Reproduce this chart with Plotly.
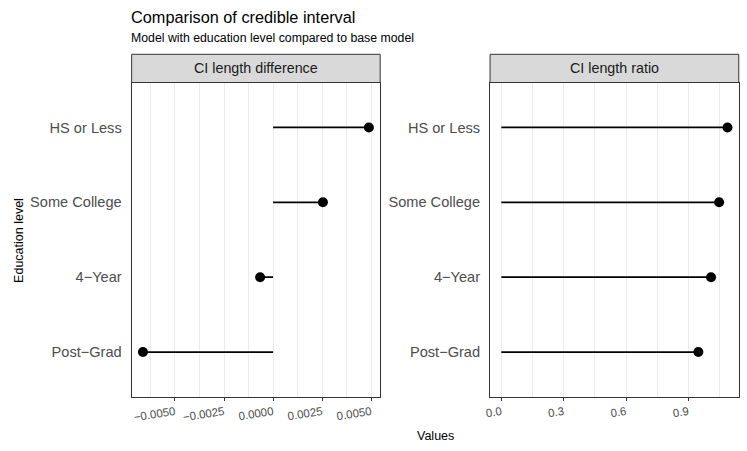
import plotly.graph_objects as go

# values
education = ["HS or Less", "Some College", "4\u2212Year", "Post\u2212Grad"]
ci_diff = [0.00488, 0.00254, -0.00066, -0.00663]
ci_ratio = [1.088, 1.048, 1.009, 0.948]

diff_ticks = [-0.005, -0.0025, 0.0, 0.0025, 0.005]
diff_labels = ["\u22120.0050", "\u22120.0025", "0.0000", "0.0025", "0.0050"]
diff_minor = [-0.00625, -0.00375, -0.00125, 0.00125, 0.00375]
ratio_ticks = [0.0, 0.3, 0.6, 0.9]
ratio_labels = ["0.0", "0.3", "0.6", "0.9"]
ratio_minor = [0.15, 0.45, 0.75, 1.05]

FONT = "Liberation Sans, Arial, sans-serif"
W, H = 747, 451


def px_x(p):
    return p / W


def px_y(p):
    return 1 - p / H


def padded(vals):
    lo, hi = min(0, min(vals)), max(0, max(vals))
    pad = 0.05 * (hi - lo)
    return [lo - pad, hi + pad]


def lollipop(vals, xa, ya):
    xs, ys = [], []
    for cat, v in zip(education, vals):
        xs += [0, v, None]
        ys += [cat, cat, None]
    seg = go.Scatter(x=xs, y=ys, mode="lines", line=dict(color="black", width=1.8),
                     xaxis=xa, yaxis=ya, showlegend=False, hoverinfo="skip")
    dots = go.Scatter(x=vals, y=education, mode="markers",
                      marker=dict(color="black", size=10),
                      xaxis=xa, yaxis=ya, showlegend=False)
    return [seg, dots]


fig = go.Figure(lollipop(ci_diff, "x", "y") + lollipop(ci_ratio, "x2", "y2"))

panel_top, panel_bot = 82.5, 397
strip_top = 54.3
panels = [(127.5, 377.7), (488.3, 738.7)]


def xaxis(dom, rng, tv, tt, minor):
    return dict(domain=[px_x(dom[0]), px_x(dom[1])], range=rng,
                tickvals=tv, ticktext=tt, tickangle=-9,
                ticks="outside", ticklen=3, tickcolor="#333333",
                tickfont=dict(family=FONT, size=11.5, color="#4D4D4D"),
                showgrid=True, gridcolor="#EBEBEB", gridwidth=1.1,
                minor=dict(tickvals=minor, showgrid=True, gridcolor="#EBEBEB", gridwidth=0.6),
                showline=True, linecolor="#333333", linewidth=1, mirror=True,
                zeroline=False)


def yaxis(anchor):
    return dict(domain=[px_y(panel_bot), px_y(panel_top)], anchor=anchor,
                type="category", categoryarray=education[::-1], range=[-0.6, 3.6],
                showgrid=False, ticks="", ticklabelstandoff=6,
                tickfont=dict(family=FONT, size=14.6, color="#4D4D4D"),
                showline=True, linecolor="#333333", linewidth=1, mirror=True,
                zeroline=False)


shapes = []
annotations = []
strip_names = ["CI length difference", "CI length ratio"]
for (x0, x1), name in zip(panels, strip_names):
    shapes.append(dict(type="rect", xref="paper", yref="paper",
                       x0=px_x(x0), x1=px_x(x1), y0=px_y(panel_top), y1=px_y(strip_top),
                       fillcolor="#D9D9D9", line=dict(color="#333333", width=1)))
    annotations.append(dict(text=name, xref="paper", yref="paper",
                            x=px_x((x0 + x1) / 2), y=px_y((strip_top + panel_top) / 2),
                            showarrow=False, xanchor="center", yanchor="middle",
                            font=dict(family=FONT, size=14.3, color="#1A1A1A")))

annotations += [
    dict(text="Comparison of credible interval", xref="paper", yref="paper",
         x=px_x(125), y=px_y(17), xanchor="left", yanchor="middle", showarrow=False,
         font=dict(family=FONT, size=16.3, color="black")),
    dict(text="Model with education level compared to base model", xref="paper", yref="paper",
         x=px_x(125), y=px_y(38), xanchor="left", yanchor="middle", showarrow=False,
         font=dict(family=FONT, size=12.3, color="black")),
    dict(text="Values", xref="paper", yref="paper",
         x=px_x(433), y=px_y(436), xanchor="center", yanchor="middle", showarrow=False,
         font=dict(family=FONT, size=12.5, color="black")),
    dict(text="Education level", xref="paper", yref="paper", textangle=-90,
         x=px_x(14), y=px_y(240), xanchor="center", yanchor="middle", showarrow=False,
         font=dict(family=FONT, size=12.5, color="black")),
]

fig.update_layout(
    width=W, height=H,
    margin=dict(l=0, r=0, t=0, b=0),
    paper_bgcolor="white", plot_bgcolor="white",
    xaxis=xaxis(panels[0], padded(ci_diff), diff_ticks, diff_labels, diff_minor),
    xaxis2=xaxis(panels[1], padded(ci_ratio), ratio_ticks, ratio_labels, ratio_minor),
    yaxis=yaxis("x"),
    yaxis2=yaxis("x2"),
    shapes=shapes,
    annotations=annotations,
)
fig.update_layout(xaxis=dict(anchor="y"), xaxis2=dict(anchor="y2"))

# drop the page's default body margin so the figure sits at the window's corner
fig.write_html("out.html", config={"displayModeBar": False},
               post_script="document.body.style.margin='0';"
                           "document.body.style.overflow='hidden';")
